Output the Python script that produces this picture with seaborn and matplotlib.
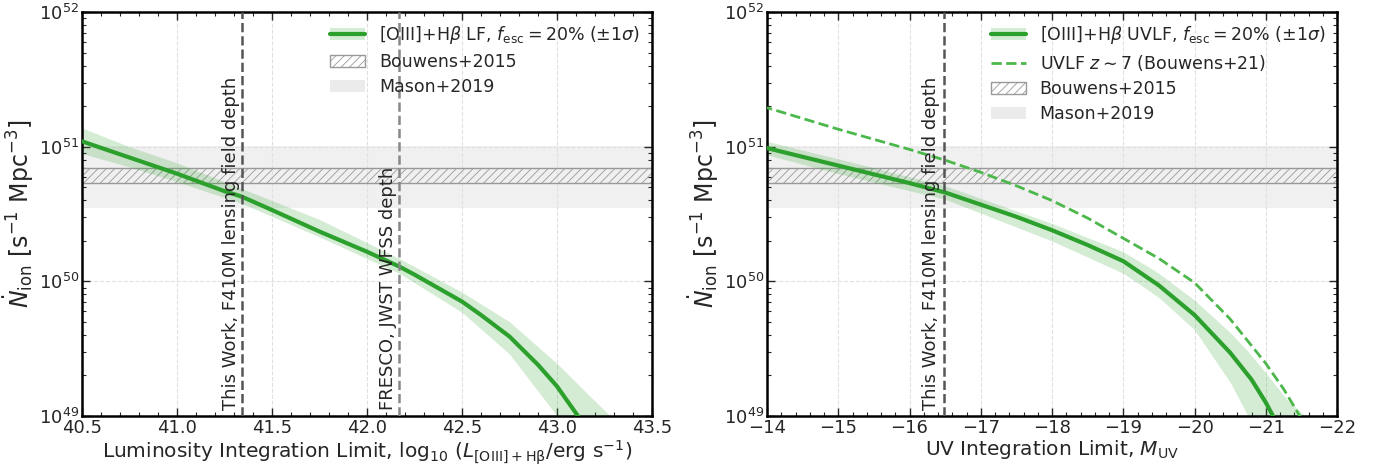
import numpy as np
import pandas as pd
import matplotlib
matplotlib.use("Agg")
import matplotlib.pyplot as plt
import seaborn as sns
from matplotlib.patches import Patch
from matplotlib.lines import Line2D

# left panel: [OIII]+Hb LF integration (log10 N_ion)
lum_limit = [40.5, 40.75, 41.0, 41.25, 41.34, 41.5, 41.75, 42.0, 42.17, 42.25,
             42.5, 42.6, 42.75, 42.9, 43.0, 43.05, 43.12]
lf_med = [51.04, 50.92, 50.80, 50.67, 50.63, 50.53, 50.37, 50.22, 50.11, 50.05,
          49.85, 49.75, 49.59, 49.38, 49.22, 49.12, 48.98]
lum_band = [40.5, 40.75, 41.0, 41.34, 41.75, 42.17, 42.5, 42.75, 43.0, 43.15, 43.28]
lf_lo = [50.95, 50.85, 50.74, 50.58, 50.33, 50.06, 49.77, 49.46, 49.0, 48.7, 48.5]
lf_hi = [51.14, 51.0, 50.88, 50.69, 50.46, 50.17, 49.92, 49.70, 49.39, 49.18, 49.0]

# right panel: UV integration
muv_limit = [-14, -15, -16, -16.5, -17, -17.5, -18, -18.5, -19, -19.5, -20,
             -20.5, -20.8, -21, -21.12]
uv_med = [50.99, 50.86, 50.73, 50.66, 50.57, 50.48, 50.38, 50.27, 50.15, 49.97, 49.75,
          49.47, 49.27, 49.1, 48.98]
muv_band = [-14, -15, -16.5, -18, -19, -19.5, -20, -20.5, -20.75, -21, -21.3, -21.55]
uv_lo = [50.94, 50.80, 50.61, 50.30, 50.06, 49.88, 49.64, 49.25, 49.0, 48.6, 48.2, 47.8]
uv_hi = [51.04, 50.91, 50.71, 50.43, 50.22, 50.06, 49.86, 49.62, 49.48, 49.32, 49.12, 49.0]

muv_b21 = [-14, -15, -16, -16.5, -17, -17.5, -18, -18.5, -19, -19.5, -20, -20.5,
           -21, -21.25, -21.5]
uv_b21 = [51.29, 51.13, 50.98, 50.90, 50.81, 50.71, 50.60, 50.47, 50.32, 50.17, 49.99,
          49.72, 49.39, 49.2, 48.98]

# literature constraints (N_ion)
bouwens15 = [5.4e50, 7.0e50]
mason19 = [3.5e50, 1.02e51]

lf_vlines = [41.34, 42.17]
lf_vcolors = ["#555555", "#888888"]
lf_vlabels = ["This Work, F410M lensing field depth", "FRESCO, JWST WFSS depth"]
uv_vline = -16.48

green = "#2ca02c"
band = "#2ca02c"

sns.set_style("ticks")
plt.rcParams["font.family"] = ["DejaVu Sans"]
plt.rcParams["mathtext.fontset"] = "dejavusans"
plt.rcParams["hatch.color"] = "#888888"
plt.rcParams["hatch.linewidth"] = 0.6

fig = plt.figure(figsize=(13.8, 4.66), dpi=100)
ax1 = fig.add_axes([0.0594, 0.1073, 0.4131, 0.8667])
ax2 = fig.add_axes([0.5558, 0.1073, 0.4131, 0.8667])


def add_refs(ax):
    ax.axhspan(mason19[0], mason19[1], color="#f0f0f0", lw=0, zorder=0)
    ax.axhspan(bouwens15[0], bouwens15[1], facecolor="none", edgecolor="#999999",
               hatch="////", lw=1.0, zorder=1)


def style(ax):
    ax.set_yscale("log")
    ax.set_ylim(1e49, 1e52)
    ax.grid(True, which="major", ls="--", color="#e0e0e0", lw=0.8)
    ax.tick_params(which="both", direction="in", top=True, right=True, labelsize=13, pad=2)
    ax.tick_params(which="major", length=6, width=1.0)
    ax.tick_params(which="minor", length=3, width=0.8)
    for s in ax.spines.values():
        s.set_linewidth(1.8)
        s.set_color("black")
    ax.set_ylabel(r"$\dot{N}_{\rm ion}$ [s$^{-1}$ Mpc$^{-3}$]", fontsize=17, labelpad=2)


leg_kw = dict(loc="upper right", frameon=False, fontsize=12.5, handlelength=2.0,
              labelspacing=0.4, borderaxespad=0.3)

# ---- left panel
add_refs(ax1)
ax1.fill_between(lum_band, 10 ** np.array(lf_lo), 10 ** np.array(lf_hi),
                 color=band, alpha=0.2, lw=0, zorder=2)
df_lf = pd.DataFrame({"x": lum_limit, "y": 10 ** np.array(lf_med)})
sns.lineplot(data=df_lf, x="x", y="y", ax=ax1, color=green, lw=3, zorder=3)
for xv, lab, c in zip(lf_vlines, lf_vlabels, lf_vcolors):
    ax1.axvline(xv, color=c, ls="--", lw=1.8, zorder=4)
    ax1.text(xv - 0.01, 1.1e49, lab, rotation=90, ha="right", va="bottom", fontsize=13)
style(ax1)
ax1.set_xlim(40.5, 43.5)
ax1.set_xticks(np.arange(40.5, 43.51, 0.5))
ax1.xaxis.set_minor_locator(matplotlib.ticker.MultipleLocator(0.1))
ax1.set_xlabel(r"Luminosity Integration Limit, $\log_{10}\,(L_{\rm [OIII]+H\beta}/{\rm erg\ s^{-1}})$",
               fontsize=14.5, labelpad=1)

h1 = (Patch(facecolor=band, alpha=0.2, lw=0), Line2D([], [], color=green, lw=3))
hb = Patch(facecolor="none", edgecolor="#999999", hatch="////", lw=1.0)
hm = Patch(facecolor="#ebebeb", lw=0)
ax1.legend([h1, hb, hm],
           [r"[OIII]+H$\beta$ LF, $f_{\rm esc}=20\%$ ($\pm1\sigma$)", "Bouwens+2015", "Mason+2019"],
           **leg_kw)

# ---- right panel
add_refs(ax2)
ax2.fill_between(muv_band, 10 ** np.array(uv_lo), 10 ** np.array(uv_hi),
                 color=band, alpha=0.2, lw=0, zorder=2)
df_uv = pd.DataFrame({"x": muv_limit, "y": 10 ** np.array(uv_med)})
sns.lineplot(data=df_uv, x="x", y="y", ax=ax2, color=green, lw=3, zorder=3)
df_b21 = pd.DataFrame({"x": muv_b21, "y": 10 ** np.array(uv_b21)})
sns.lineplot(data=df_b21, x="x", y="y", ax=ax2, color="#4cb84c", lw=2, ls="--", zorder=3)
ax2.axvline(uv_vline, color="#555555", ls="--", lw=1.8, zorder=4)
ax2.text(uv_vline + 0.05, 1.1e49, lf_vlabels[0], rotation=90, ha="right", va="bottom", fontsize=13)
style(ax2)
ax2.set_xlim(-14, -22)
ax2.set_xticks(np.arange(-14, -22.1, -1))
ax2.xaxis.set_minor_locator(matplotlib.ticker.MultipleLocator(0.2))
ax2.set_xlabel(r"UV Integration Limit, $M_{\rm UV}$", fontsize=14.5, labelpad=1)

hd = Line2D([], [], color="#4cb84c", lw=2, ls="--")
ax2.legend([h1, hd, hb, hm],
           [r"[OIII]+H$\beta$ UVLF, $f_{\rm esc}=20\%$ ($\pm1\sigma$)",
            r"UVLF $z\sim7$ (Bouwens+21)", "Bouwens+2015", "Mason+2019"],
           **leg_kw)

fig.savefig("out.png", dpi=100)
